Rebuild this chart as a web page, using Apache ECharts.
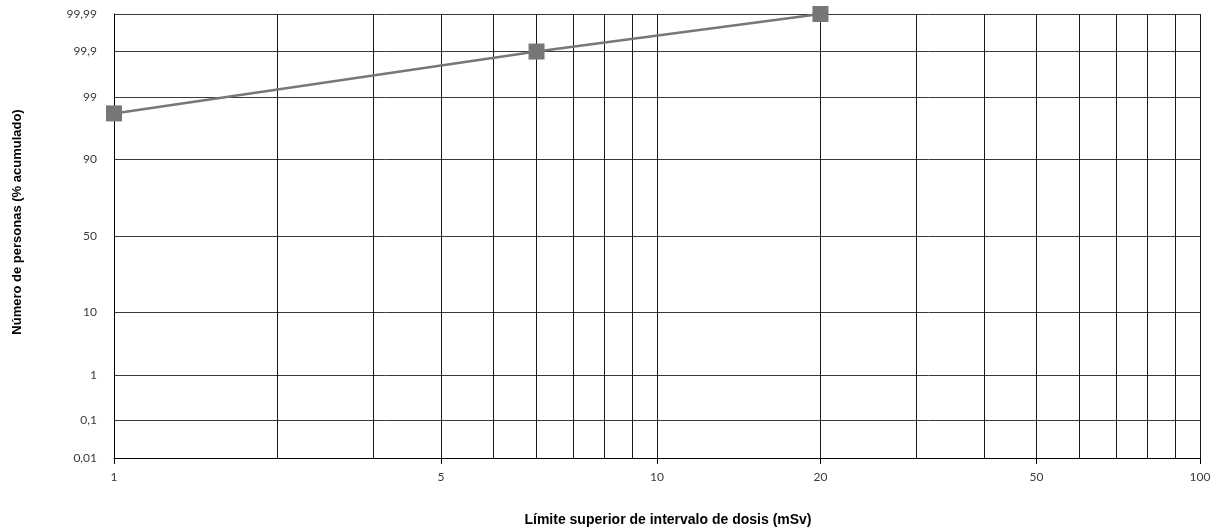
<!DOCTYPE html>
<html><head><meta charset="utf-8">
<script src="https://cdn.jsdelivr.net/npm/echarts@6/dist/echarts.min.js"></script>
<style>html,body{margin:0;padding:0;background:#fff}#c{width:1218px;height:532px}</style>
</head><body><div id="c"></div>
<script>
// Data (dose limit in mSv, cumulative % of persons)
const doses = [1, 6, 20];
const cumulativePct = [98, 99.9, 99.99];

// X axis (log scale) gridline values and tick labels
const xGridValues = [1, 2, 3, 4, 5, 6, 7, 8, 9, 10, 20, 30, 40, 50, 60, 70, 80, 90, 100];
const xTickValues = [1, 4, 10, 20, 50, 100];
const xTickLabels = ['1', '5', '10', '20', '50', '100'];

// Y axis (probability scale) ticks
const yTickValues = [0.01, 0.1, 1, 10, 50, 90, 99, 99.9, 99.99];
const yTickLabels = ['0,01', '0,1', '1', '10', '50', '90', '99', '99,9', '99,99'];

const xTitle = 'Límite superior de intervalo de dosis (mSv)';
const yTitle = 'Número de personas (% acumulado)';

// inverse normal CDF (Acklam) for the probability scale
function probit(p) {
  const a = [-3.969683028665376e+01, 2.209460984245205e+02, -2.759285104469687e+02, 1.383577518672690e+02, -3.066479806614716e+01, 2.506628277459239e+00];
  const b = [-5.447609879822406e+01, 1.615858368580409e+02, -1.556989798598866e+02, 6.680131188771972e+01, -1.328068155288572e+01];
  const c = [-7.784894002430293e-03, -3.223964580411365e-01, -2.400758277161838e+00, -2.549732539343734e+00, 4.374664141464968e+00, 2.938163982698783e+00];
  const d = [7.784695709041462e-03, 3.224671290700398e-01, 2.445134137142996e+00, 3.754408661907416e+00];
  const pl = 0.02425, ph = 1 - pl;
  let q, r;
  if (p < pl) {
    q = Math.sqrt(-2 * Math.log(p));
    return (((((c[0]*q+c[1])*q+c[2])*q+c[3])*q+c[4])*q+c[5]) / ((((d[0]*q+d[1])*q+d[2])*q+d[3])*q+1);
  } else if (p <= ph) {
    q = p - 0.5; r = q * q;
    return (((((a[0]*r+a[1])*r+a[2])*r+a[3])*r+a[4])*r+a[5])*q / (((((b[0]*r+b[1])*r+b[2])*r+b[3])*r+b[4])*r+1);
  } else {
    q = Math.sqrt(-2 * Math.log(1 - p));
    return -(((((c[0]*q+c[1])*q+c[2])*q+c[3])*q+c[4])*q+c[5]) / ((((d[0]*q+d[1])*q+d[2])*q+d[3])*q+1);
  }
}
const zOf = pct => probit(pct / 100);
const lx = v => Math.log10(v);

const yTickZ = yTickValues.map(zOf);
const yMin = yTickZ[0], yMax = yTickZ[yTickZ.length - 1];
const xTickPos = xTickValues.map(lx);

function nearestLabel(val, positions, labels) {
  for (let i = 0; i < positions.length; i++) {
    if (Math.abs(positions[i] - val) < 1e-6) return labels[i];
  }
  return '';
}

const labelFont = { fontFamily: 'Lato, "DejaVu Sans", sans-serif', fontSize: 12, color: '#3a3a3a' };
const titleFamily = '"Liberation Sans Narrow", "Liberation Sans", Arial, sans-serif';

const chart = echarts.init(document.getElementById('c'), null, { renderer: 'canvas' });
chart.setOption({
  animation: false,
  backgroundColor: '#fff',
  grid: { left: 114, right: 18, top: 14, bottom: 74, containLabel: false },
  graphic: [
    {
      type: 'text', x: 668, y: 520, z: 10,
      style: { text: xTitle, font: 'bold 14px ' + titleFamily, fill: '#000', align: 'center', verticalAlign: 'middle' }
    },
    {
      type: 'text', x: 17, y: 222, rotation: Math.PI / 2, z: 10,
      style: { text: yTitle, font: 'bold 13px ' + titleFamily, fill: '#000', align: 'center', verticalAlign: 'middle' }
    }
  ],
  xAxis: [
    {
      type: 'value', min: 0, max: 2, position: 'bottom',
      axisLine: { show: true, onZero: false, lineStyle: { color: '#000', width: 1 } },
      axisTick: { show: false, customValues: xGridValues.map(lx) },
      axisLabel: { show: false, customValues: xGridValues.map(lx) },
      splitLine: { show: true, showMinLine: false, lineStyle: { color: '#1a1a1a', width: 1 } }
    },
    {
      type: 'value', min: 0, max: 2, position: 'bottom', gridIndex: 0,
      axisLine: { show: false, onZero: false },
      axisTick: { show: true, length: 6, customValues: xTickPos, lineStyle: { color: '#000' } },
      axisLabel: {
        show: true, customValues: xTickPos, margin: 13, ...labelFont,
        formatter: v => nearestLabel(v, xTickPos, xTickLabels)
      },
      splitLine: { show: false }
    }
  ],
  yAxis: {
    type: 'value', min: yMin, max: yMax,
    axisLine: { show: true, onZero: false, lineStyle: { color: '#000', width: 1 } },
    axisTick: { show: false, customValues: yTickZ },
    axisLabel: {
      show: true, customValues: yTickZ, margin: 17, ...labelFont,
      formatter: v => nearestLabel(v, yTickZ, yTickLabels)
    },
    splitLine: { show: true, lineStyle: { color: '#3a3a3a', width: 1 } }
  },
  series: [{
    type: 'line',
    xAxisIndex: 0,
    data: doses.map((d, i) => [lx(d), zOf(cumulativePct[i])]),
    symbol: 'rect', symbolSize: 16,
    itemStyle: { color: '#777' },
    lineStyle: { color: '#777', width: 2.5 },
    z: 5
  }]
});
</script></body></html>
